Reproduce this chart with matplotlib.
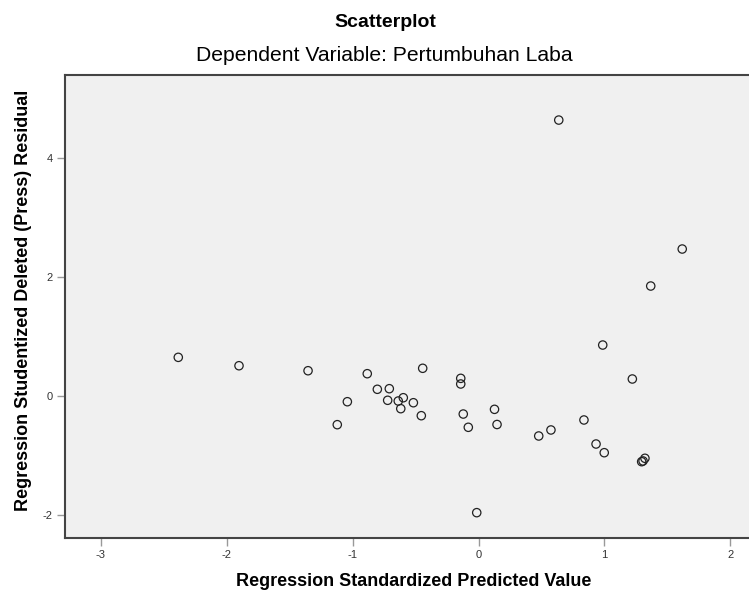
"""SPSS-style residual scatterplot."""

import matplotlib

matplotlib.use("Agg")
import matplotlib.pyplot as plt

plt.rcParams["font.family"] = ["Liberation Sans", "DejaVu Sans"]

# standardized predicted value vs studentized deleted residual
zpred = [
    -2.383, -1.901, -1.353, -0.883, -0.443, -0.141, -0.141, -0.803, -0.708,
    -1.041, -0.721, -0.637, -0.597, -0.617, -0.517, -0.454, -1.121, -0.121,
    -0.081, 0.127, 0.147, -0.014, 0.637, 1.617, 1.367, 0.986, 1.221, 0.478,
    0.575, 0.837, 0.933, 0.998, 1.295, 1.321, 1.306,
]
sdresid = [
    0.650, 0.509, 0.425, 0.375, 0.466, 0.297, 0.202, 0.113, 0.123,
    -0.096, -0.072, -0.084, -0.029, -0.213, -0.113, -0.331, -0.482, -0.303,
    -0.526, -0.224, -0.479, -1.961, 4.639, 2.471, 1.849, 0.857, 0.286, -0.672,
    -0.571, -0.403, -0.807, -0.953, -1.104, -1.047, -1.092,
]
x_ticks = [-3, -2, -1, 0, 1, 2]
y_ticks = [-2, 0, 2, 4]

fig = plt.figure(figsize=(7.49, 5.95), dpi=100)
ax = fig.add_axes([0.0868, 0.0958, 0.9132, 0.778])
ax.set_facecolor("#f0f0f0")

ax.scatter(zpred, sdresid, s=36, facecolors="none", edgecolors="#222222",
           linewidths=0.9, zorder=3)

ax.set_xlim(-3.282, 2.147)
ax.set_ylim(-2.387, 5.395)
ax.set_xticks(x_ticks)
ax.set_xticklabels([str(v) for v in x_ticks])
ax.set_yticks(y_ticks)
ax.set_yticklabels([str(v) for v in y_ticks])
ax.tick_params(direction="out", length=6, width=1, color="#999999",
               labelsize=8, labelcolor="#333333", pad=3)

for side in ("left", "top", "bottom"):
    ax.spines[side].set_color("#444444")
    ax.spines[side].set_linewidth(1.5)
ax.spines["right"].set_visible(False)

ax.set_xlabel("Regression Standardized Predicted Value", fontsize=13,
              fontweight="bold", va="center")
ax.xaxis.set_label_coords(0.510, -0.095)
ax.set_ylabel("Regression Studentized Deleted (Press) Residual", fontsize=13,
              fontweight="bold", va="center")
ax.yaxis.set_label_coords(-0.060, 0.514)

fig.text(0.515, 0.962, "Scatterplot", ha="center", va="center",
         fontsize=14, fontweight="bold")
fig.text(0.513, 0.906, "Dependent Variable: Pertumbuhan Laba", ha="center",
         va="center", fontsize=15.2)

fig.savefig("out.png", dpi=100)
plt.close(fig)
